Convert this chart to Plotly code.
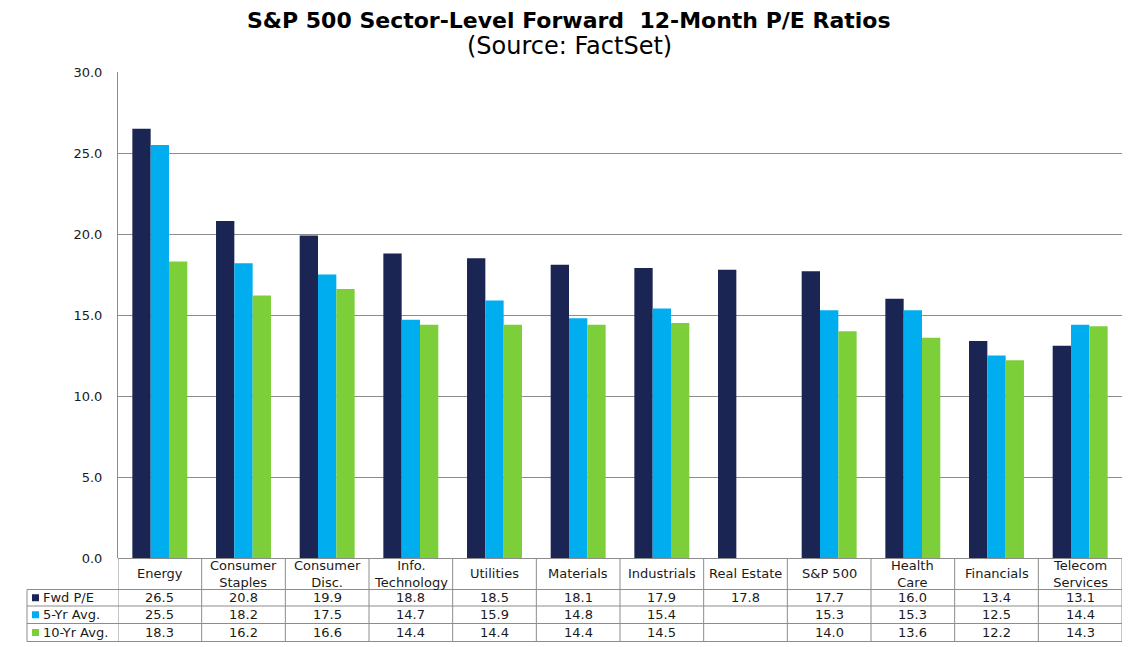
import plotly.graph_objects as go

categories = ["Energy", "Consumer<br>Staples", "Consumer<br>Disc.", "Info.<br>Technology",
              "Utilities", "Materials", "Industrials", "Real Estate", "S&P 500",
              "Health<br>Care", "Financials", "Telecom<br>Services"]
fwd_pe = [26.5, 20.8, 19.9, 18.8, 18.5, 18.1, 17.9, 17.8, 17.7, 16.0, 13.4, 13.1]
avg_5yr = [25.5, 18.2, 17.5, 14.7, 15.9, 14.8, 15.4, None, 15.3, 15.3, 12.5, 14.4]
avg_10yr = [18.3, 16.2, 16.6, 14.4, 14.4, 14.4, 14.5, None, 14.0, 13.6, 12.2, 14.3]
series_names = ["Fwd P/E", "5-Yr Avg.", "10-Yr Avg."]
colors = ["#1B2554", "#00AEEF", "#7DCF3A"]
y_ticks = [0, 5, 10, 15, 20, 25, 30]

OFF = 8  # page body margin
W, H = 1137 - OFF, 647 - OFF
L, R, T, B = 118, 1122, 72, 558  # target pixel positions in the screenshot
FONT = "DejaVu Sans, Liberation Sans, Arial, sans-serif"
TXT = "#1a1a1a"
LINE = "#8c8c8c"

def px2x(px):
    return (px - L) / (R - L)

def py2y(py):
    return (B - py) / (B - T)

xs = list(range(len(categories)))
series = [fwd_pe, avg_5yr, avg_10yr]

fig = go.Figure()
for name, vals, col in zip(series_names, series, colors):
    fig.add_trace(go.Bar(x=xs, y=vals, name=name, marker=dict(color=col, line=dict(width=0))))

shapes = []
annotations = []

row_lines = [589.5, 606, 623.5, 641.5]
label_left = 27

for i in range(len(categories) + 1):
    shapes.append(dict(type="line", xref="x", yref="paper", x0=i - 0.5, x1=i - 0.5,
                       y0=0, y1=py2y(row_lines[-1]), line=dict(color=LINE, width=1)))
shapes.append(dict(type="line", xref="paper", yref="paper", x0=px2x(label_left), x1=px2x(label_left),
                   y0=py2y(row_lines[0]), y1=py2y(row_lines[-1]), line=dict(color=LINE, width=1)))
for ry in row_lines:
    shapes.append(dict(type="line", xref="paper", yref="paper", x0=px2x(label_left), x1=1,
                       y0=py2y(ry), y1=py2y(ry), line=dict(color=LINE, width=1)))

header_center = (B + row_lines[0]) / 2
for i, c in enumerate(categories):
    annotations.append(dict(x=i, y=py2y(header_center), xref="x", yref="paper", text=c,
                            showarrow=False, font=dict(family=FONT, size=13, color=TXT),
                            xanchor="center", yanchor="middle"))

for r, (name, vals, col) in enumerate(zip(series_names, series, colors)):
    cy = (row_lines[r] + row_lines[r + 1]) / 2
    shapes.append(dict(type="rect", xref="paper", yref="paper",
                       x0=px2x(32), x1=px2x(39), y0=py2y(cy + 3.5), y1=py2y(cy - 3.5),
                       fillcolor=col, line=dict(width=0)))
    annotations.append(dict(x=px2x(41), y=py2y(cy), xref="paper", yref="paper", text=name,
                            showarrow=False, font=dict(family=FONT, size=13, color=TXT),
                            xanchor="left", yanchor="middle"))
    for i, v in enumerate(vals):
        if v is None:
            continue
        annotations.append(dict(x=i, y=py2y(cy), xref="x", yref="paper", text=f"{v:.1f}",
                                showarrow=False, font=dict(family=FONT, size=13, color=TXT),
                                xanchor="center", yanchor="middle"))

annotations.append(dict(x=px2x(569), y=py2y(20), xref="paper", yref="paper",
                        text="<b>S&P 500 Sector-Level Forward  12-Month P/E Ratios</b>",
                        showarrow=False, font=dict(family=FONT, size=22, color="#000"),
                        xanchor="center", yanchor="middle"))
annotations.append(dict(x=px2x(569), y=py2y(46), xref="paper", yref="paper",
                        text="(Source: FactSet)",
                        showarrow=False, font=dict(family=FONT, size=24, color="#000"),
                        xanchor="center", yanchor="middle"))

fig.update_layout(
    width=W, height=H, autosize=False,
    margin=dict(l=L - OFF, r=W - (R - OFF), t=T - OFF, b=H - (B - OFF), pad=0),
    paper_bgcolor="white", plot_bgcolor="white",
    barmode="group", bargap=0.343, bargroupgap=0,
    showlegend=False,
    shapes=shapes, annotations=annotations,
    xaxis=dict(range=[-0.5, len(categories) - 0.5], showticklabels=False, showgrid=False,
               zeroline=False, showline=False, fixedrange=True),
    yaxis=dict(range=[0, 30], tickvals=y_ticks, ticktext=[f"{t:.1f}" for t in y_ticks],
               showgrid=True, gridcolor=LINE, gridwidth=1, zeroline=True, zerolinecolor=LINE,
               zerolinewidth=1, showline=True, linecolor=LINE, linewidth=1,
               ticks="outside", ticklen=0, ticklabelstandoff=12,
               tickfont=dict(family=FONT, size=13, color=TXT)),
)

fig.write_html("out.html")
